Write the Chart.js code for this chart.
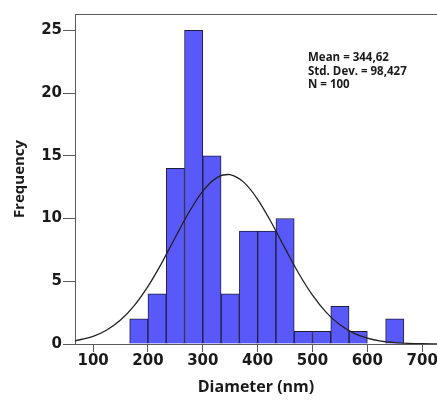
<!DOCTYPE html>
<html>
<head>
<meta charset="utf-8">
<script src="https://cdn.jsdelivr.net/npm/chart.js@4/dist/chart.umd.min.js"></script>
<style>
  html, body { margin: 0; padding: 0; background: #ffffff; }
  #wrap { width: 437px; height: 406px; }
</style>
</head>
<body>
<div id="wrap"><canvas id="c" width="437" height="406"></canvas></div>
<script>
// ---- data ----
const binEdges = [166.7, 200, 233.3, 266.7, 300, 333.3, 366.7, 400, 433.3, 466.7, 500, 533.3, 566.7, 600, 633.3, 666.7];
const frequencies = [2, 4, 14, 25, 15, 4, 9, 9, 10, 1, 1, 3, 1, 0, 2];
const curveX = [67, 100, 125, 150, 175, 200, 225, 250, 275, 300, 325, 345, 350, 375, 400, 425, 450, 475, 500, 525, 550, 575, 600, 625, 650, 675, 700, 727];
const curveY = [0.25, 0.61, 1.12, 1.91, 3.06, 4.59, 6.45, 8.51, 10.52, 12.19, 13.24, 13.51, 13.49, 12.88, 11.53, 9.68, 7.62, 5.62, 3.89, 2.52, 1.53, 0.87, 0.47, 0.23, 0.11, 0.05, 0.02, 0.01];
const statsLines = ['Mean = 344,62', 'Std. Dev. = 98,427', 'N = 100'];
const xTitle = 'Diameter (nm)';
const yTitle = 'Frequency';
const xRange = [67, 727];
const yRange = [0, 26.3];

const barData = frequencies.map((f, i) => ({ x: (binEdges[i] + binEdges[i + 1]) / 2, y: f }));
const curveData = curveX.map((x, i) => ({ x: x, y: curveY[i] }));

const frameColor = '#5a5a5a';
const tickFont = { family: 'DejaVu Sans', weight: 'bold', size: 15 };

const framePlugin = {
  id: 'frame',
  afterDraw(chart) {
    const { ctx, chartArea } = chart;
    ctx.save();
    ctx.strokeStyle = frameColor;
    ctx.lineWidth = 1;
    ctx.beginPath();
    ctx.moveTo(chartArea.left, chartArea.top + 0.5);
    ctx.lineTo(chartArea.right, chartArea.top + 0.5);
    ctx.stroke();
    ctx.fillStyle = '#1a1a1a';
    ctx.font = 'bold 11.5px "Open Sans"';
    ctx.textBaseline = 'alphabetic';
    ctx.textAlign = 'left';
    statsLines.forEach((t, i) => ctx.fillText(t, 308, 61 + i * 13.5));
    ctx.restore();
  }
};

new Chart(document.getElementById('c'), {
  data: {
    datasets: [
      {
        type: 'line',
        data: curveData,
        borderColor: '#222222',
        borderWidth: 1.3,
        pointRadius: 0,
        cubicInterpolationMode: 'monotone',
        fill: false,
        order: 0
      },
      {
        type: 'bar',
        data: barData,
        backgroundColor: '#5959f9',
        borderColor: '#1e1e3c',
        borderWidth: 1,
        barPercentage: 1,
        categoryPercentage: 1,
        grouped: false,
        order: 1
      }
    ]
  },
  options: {
    responsive: false,
    devicePixelRatio: 1,
    animation: false,
    events: [],
    layout: { padding: { top: 14, right: 0, bottom: 0, left: 0 } },
    plugins: { legend: { display: false }, tooltip: { enabled: false } },
    scales: {
      x: {
        type: 'linear',
        position: 'bottom',
        offset: false,
        min: xRange[0],
        max: xRange[1],
        border: { display: true, color: frameColor, width: 1 },
        grid: { offset: false, drawOnChartArea: false, drawTicks: true, tickLength: 8, color: frameColor, tickColor: frameColor },
        ticks: { stepSize: 100, includeBounds: false, padding: 0, color: '#1a1a1a', font: tickFont, maxRotation: 0 },
        title: { display: true, text: xTitle, color: '#1a1a1a', font: { family: 'Open Sans', weight: 'bold', size: 16 }, padding: { top: 0, bottom: 9 } },
        afterFit(scale) { scale.height = 62; scale.paddingLeft = 0; scale.paddingRight = 0; }
      },
      y: {
        type: 'linear',
        min: yRange[0],
        max: yRange[1],
        border: { display: true, color: frameColor, width: 1 },
        grid: { drawOnChartArea: false, drawTicks: true, tickLength: 12, color: frameColor, tickColor: frameColor },
        ticks: { stepSize: 5, includeBounds: false, padding: 1, color: '#1a1a1a', font: tickFont },
        title: { display: true, text: yTitle, color: '#1a1a1a', font: { family: 'Open Sans', weight: 'bold', size: 15 }, padding: { top: 11, bottom: 0 } },
        afterFit(scale) { scale.width = 75; scale.paddingTop = 0; scale.paddingBottom = 0; }
      }
    }
  },
  plugins: [framePlugin]
});
</script>
</body>
</html>
